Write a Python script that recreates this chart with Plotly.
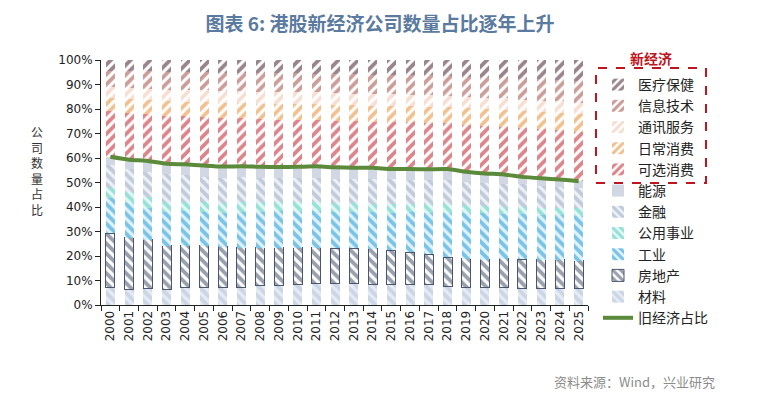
import plotly.graph_objects as go

years = [str(y) for y in range(2000, 2026)]

# old economy (bottom -> top)
materials = [7.1, 6.4, 6.8, 6.4, 7.2, 7.2, 7.2, 7.2, 7.8, 8.0, 8.3, 8.6, 8.7, 8.8, 8.5, 8.4, 8.4, 8.2, 7.5, 7.2, 7.2, 7.1, 6.8, 6.8, 6.8, 6.8]
real_estate = [22.2, 21.1, 19.9, 17.8, 17.0, 17.0, 16.6, 16.2, 15.6, 15.4, 15.1, 14.8, 14.4, 14.3, 14.4, 14.0, 13.1, 12.6, 11.9, 11.6, 11.2, 11.7, 11.8, 11.6, 11.6, 11.2]
industrials = [14.2, 14.0, 13.0, 13.9, 14.1, 13.9, 13.6, 14.7, 14.4, 14.9, 14.7, 14.9, 14.7, 14.7, 14.9, 15.0, 16.3, 16.6, 18.0, 18.6, 19.0, 18.3, 18.5, 18.3, 18.3, 18.5]
utilities = [4.1, 4.5, 4.5, 4.1, 3.9, 4.1, 4.1, 4.1, 4.4, 3.9, 4.1, 3.9, 3.7, 3.7, 3.4, 3.8, 3.4, 3.8, 3.8, 3.5, 3.2, 3.1, 3.1, 3.0, 2.7, 2.9]
financials = [9.5, 9.4, 10.2, 11.1, 10.9, 10.2, 10.2, 10.2, 9.8, 9.5, 9.5, 9.5, 9.9, 9.9, 10.2, 10.1, 10.0, 9.8, 9.8, 9.4, 9.3, 9.1, 9.1, 9.0, 8.9, 8.5]
energy = [3.4, 3.9, 4.4, 4.4, 4.3, 4.5, 4.8, 4.2, 4.4, 4.6, 4.7, 4.9, 4.8, 4.6, 4.6, 4.2, 4.3, 4.4, 4.5, 4.1, 3.8, 4.0, 3.0, 3.0, 2.9, 2.6]

# new economy (bottom -> top)
cons_disc = [18.5, 19.0, 19.2, 19.5, 19.6, 19.8, 19.9, 19.6, 19.5, 19.4, 19.2, 19.0, 19.1, 19.0, 18.9, 19.1, 19.0, 19.0, 18.8, 19.2, 19.4, 19.5, 19.8, 20.0, 20.1, 20.2]
cons_staples = [5.5, 5.6, 5.7, 5.9, 6.0, 6.1, 6.2, 6.3, 6.3, 6.4, 6.4, 6.4, 6.5, 6.5, 6.5, 6.6, 6.6, 6.6, 6.6, 6.7, 6.8, 6.9, 7.0, 7.1, 7.2, 7.3]
comm = [4.5, 4.6, 4.6, 4.7, 4.7, 4.8, 4.8, 4.9, 4.9, 4.9, 4.9, 4.8, 4.8, 4.8, 4.8, 4.8, 4.8, 4.7, 4.6, 4.6, 4.6, 4.6, 4.6, 4.6, 4.6, 4.6]
info_tech = [6.5, 6.9, 7.1, 7.3, 7.4, 7.4, 7.5, 7.5, 7.6, 7.6, 7.6, 7.6, 7.7, 7.8, 7.8, 7.9, 7.9, 8.0, 8.0, 8.3, 8.4, 8.5, 8.7, 8.8, 8.9, 9.0]
health = [4.5, 4.6, 4.6, 4.9, 4.9, 5.0, 5.1, 5.1, 5.3, 5.4, 5.5, 5.6, 5.7, 5.9, 6.0, 6.1, 6.2, 6.3, 6.5, 6.8, 7.1, 7.2, 7.6, 7.8, 8.0, 8.4]

old_share = [60.5, 59.3, 58.8, 57.7, 57.4, 56.9, 56.5, 56.6, 56.4, 56.3, 56.4, 56.6, 56.2, 56.0, 56.0, 55.5, 55.5, 55.4, 55.5, 54.4, 53.7, 53.3, 52.3, 51.7, 51.2, 50.5]

y_ticks = [0, 10, 20, 30, 40, 50, 60, 70, 80, 90, 100]
y_tick_text = ["0%", "10%", "20%", "30%", "40%", "50%", "60%", "70%", "80%", "90%", "100%"]

fig = go.Figure()

def add_bar(name, vals, fg, bg, shape, rank, solid=False, line=None):
    if solid:
        marker = dict(color=fg, line=dict(width=0))
    else:
        marker = dict(color=bg,
                      pattern=dict(shape=shape, fgcolor=fg, bgcolor=bg, size=7,
                                   solidity=0.55, fillmode="overlay"),
                      line=dict(width=1 if line else 0, color=line or fg))
    fig.add_trace(go.Bar(x=years, y=vals, name=name, marker=marker, legendrank=rank))

add_bar("材料", materials, "#aebdd6", "#e6ecf4", "\\", 11)
add_bar("房地产", real_estate, "#333f58", "#ffffff", "\\", 10, line="#4a5670")
add_bar("工业", industrials, "#1094d4", "#e2f3fb", "\\", 9)
add_bar("公用事业", utilities, "#45cbbb", "#e4f7f4", "\\", 8)
add_bar("金融", financials, "#90a3bf", "#eef1f6", "\\", 7)
add_bar("能源", energy, "#d1d8e3", None, None, 6, solid=True)
add_bar("可选消费", cons_disc, "#b80c18", "#ffffff", "/", 5)
add_bar("日常消费", cons_staples, "#e4821f", "#ffffff", "/", 4)
add_bar("通讯服务", comm, "#eebfa5", "#ffffff", "/", 3)
add_bar("信息技术", info_tech, "#983c33", "#ffffff", "/", 2)
add_bar("医疗保健", health, "#340a18", "#ffffff", "/", 1)

fig.add_trace(go.Scatter(x=years, y=old_share, name="旧经济占比", mode="lines",
                         line=dict(color="#5b8a3a", width=4, shape="spline", smoothing=0.6),
                         legendrank=12))

# page body has an 8px margin: figure is sized and positioned to compensate
OFF = 8
W, H = 759 - OFF, 399 - OFF
L, T = 101 - OFF, 60 - OFF
R = W - (588 - OFF)
B = H - (305 - OFF)
pw = W - L - R
ph = H - T - B

def px_x(x):
    return (x - OFF - L) / pw

def px_y(y):
    return (H - B - (y - OFF)) / ph

fig.update_layout(
    width=W, height=H,
    margin=dict(l=L, r=R, t=T, b=B, autoexpand=False),
    paper_bgcolor="white", plot_bgcolor="white",
    barmode="stack", bargap=0.52,
    font=dict(family="DejaVu Sans, Noto Sans CJK SC", size=12, color="#333333"),
    title=dict(text="<b>图表 6: 港股新经济公司数量占比逐年上升</b>",
               x=(380 - OFF) / W, xref="container", xanchor="center",
               y=1 - (24 - OFF) / H, yref="container", yanchor="middle",
               font=dict(family="Noto Sans CJK SC", size=19, color="#5a7aa0")),
    legend=dict(x=px_x(598), y=px_y(69), xanchor="left", yanchor="top",
                traceorder="normal", itemwidth=30, tracegroupgap=0,
                maxheight=330,
                font=dict(family="Noto Sans CJK SC", size=14, color="#222222"),
                bgcolor="rgba(0,0,0,0)"),
    showlegend=True,
)

fig.update_yaxes(range=[0, 100], tickvals=y_ticks, ticktext=y_tick_text,
                 showgrid=False, zeroline=False, showline=True, linecolor="#222222",
                 linewidth=1, ticks="outside", ticklen=5, tickcolor="#222222",
                 tickfont=dict(family="DejaVu Sans", size=12, color="#222222"))
fig.update_xaxes(type="category", tickangle=-90, showgrid=False, showline=True,
                 linecolor="#222222", linewidth=1, ticks="outside", ticklen=5,
                 tickcolor="#222222", tickson="boundaries",
                 tickfont=dict(family="DejaVu Sans", size=12, color="#222222"))

# y-axis vertical title
fig.add_annotation(text="公<br>司<br>数<br>量<br>占<br>比", xref="paper", yref="paper",
                   x=px_x(37), y=px_y(170), xanchor="center", yanchor="middle",
                   showarrow=False, align="center",
                   font=dict(family="Noto Sans CJK SC", size=12, color="#333333"))

# new economy dashed box and label
fig.add_shape(type="rect", xref="paper", yref="paper",
              x0=px_x(596), x1=px_x(706), y0=px_y(183), y1=px_y(68),
              line=dict(color="#c0141e", width=2, dash="dash"), fillcolor="rgba(0,0,0,0)")
fig.add_annotation(text="<b>新经济</b>", xref="paper", yref="paper",
                   x=px_x(651), y=px_y(58), xanchor="center", yanchor="middle",
                   showarrow=False,
                   font=dict(family="Noto Sans CJK SC", size=14, color="#c0141e"))

# source
fig.add_annotation(text="资料来源：Wind，兴业研究", xref="paper", yref="paper",
                   x=px_x(552), y=px_y(381), xanchor="left", yanchor="middle",
                   showarrow=False,
                   font=dict(family="Noto Sans CJK SC", size=13, color="#8c8c8c"))

fig.write_html("out.html")
